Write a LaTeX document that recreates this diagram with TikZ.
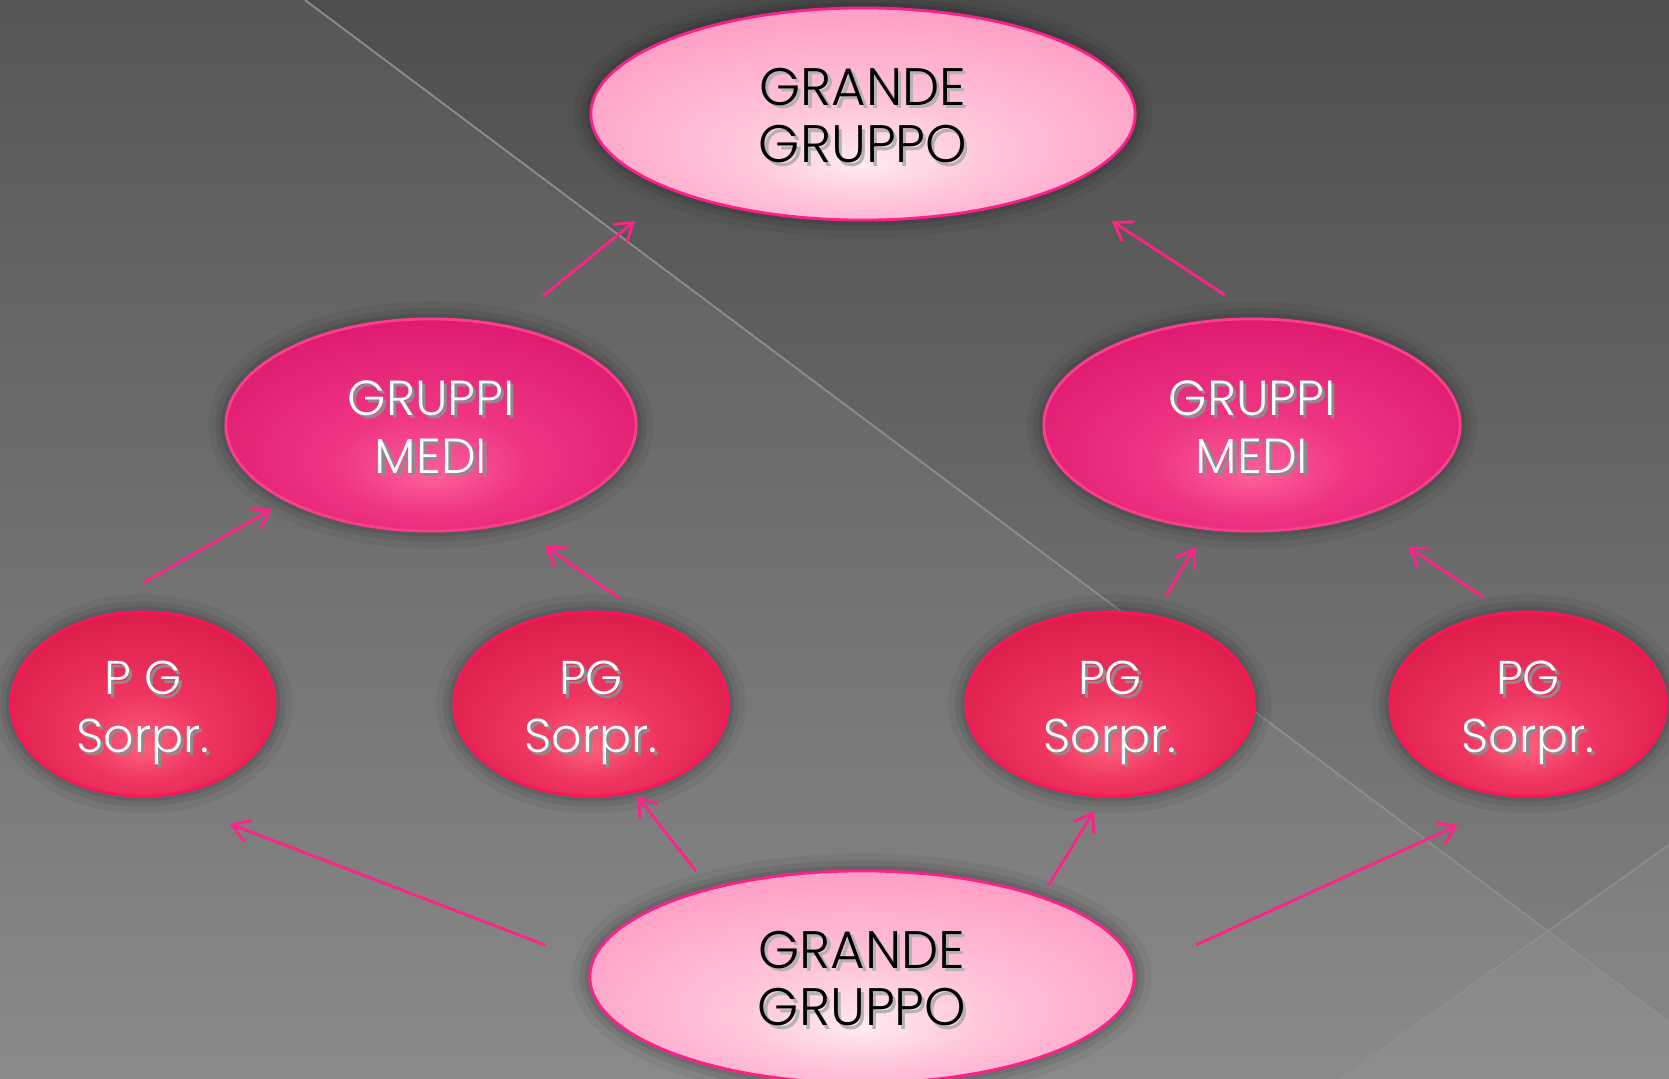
\documentclass[tikz,border=0pt]{standalone}
\usepackage{fontspec}
\IfFontExistsTF{Poppins Light}{\setmainfont{Poppins Light}}{\setmainfont{Poppins}}
\usetikzlibrary{arrows.meta,shapes.geometric}
\definecolor{bgtop}{HTML}{4E4E4E}
\definecolor{bgbot}{HTML}{848484}
\definecolor{bgln}{HTML}{8E8E8E}
\definecolor{arrcol}{HTML}{FF2288}
\definecolor{ggin}{HTML}{FFEAF2}
\definecolor{ggmid}{HTML}{FFC4DA}
\definecolor{ggout}{HTML}{FF8CBC}
\definecolor{ggln}{HTML}{FF1F8A}
\definecolor{gmin}{HTML}{FF5F9C}
\definecolor{gmmid}{HTML}{EE3582}
\definecolor{gmout}{HTML}{D80F68}
\definecolor{gmln}{HTML}{FF3D8D}
\definecolor{pgin}{HTML}{FF5F7D}
\definecolor{pgmid}{HTML}{EE3560}
\definecolor{pgout}{HTML}{D4123F}
\definecolor{pgln}{HTML}{FF1458}
\pgfdeclareradialshading{ggshade}{\pgfpoint{0bp}{-12bp}}{color(0bp)=(ggin); color(12bp)=(ggmid); color(38bp)=(ggout); color(50bp)=(ggout)}
\pgfdeclareradialshading{gmshade}{\pgfpoint{0bp}{-12bp}}{color(0bp)=(gmin); color(12bp)=(gmmid); color(38bp)=(gmout); color(50bp)=(gmout)}
\pgfdeclareradialshading{pgshade}{\pgfpoint{0bp}{-12bp}}{color(0bp)=(pgin); color(12bp)=(pgmid); color(38bp)=(pgout); color(50bp)=(pgout)}
\newcommand{\shd}[2]{\makebox[0pt][l]{\hspace{.9pt}\raisebox{-.9pt}{\color{#1}#2}}#2}
\newcommand{\alza}[1]{\rule{0pt}{#1}}
\begin{document}
\begin{tikzpicture}[x=0.01cm,y=-0.01cm,
	halo/.style={preaction={draw=black,line width=10pt,opacity=.05},preaction={draw=black,line width=6pt,opacity=.07},preaction={draw=black,line width=3pt,opacity=.09}},
	bubble/.style={ellipse,inner sep=0pt,align=center,halo},
	gg/.style={bubble,draw=ggln,line width=.8pt,shading=ggshade,minimum width=5.44cm,minimum height=2.12cm,font=\fontsize{15}{16.3}\selectfont,text=black},
	gm/.style={bubble,draw=gmln,line width=.8pt,shading=gmshade,minimum height=2.12cm,font=\fontsize{14}{16.5}\selectfont,text=white},
	pg/.style={bubble,draw=pgln,line width=.8pt,shading=pgshade,minimum height=1.84cm,font=\fontsize{13.5}{16.3}\selectfont,text=white},
	arr/.style={-{Straight Barb[length=4.8pt,width=6.5pt]},draw=arrcol,line width=.8pt}]
	\useasboundingbox (0,0) rectangle (1669,1079);
	\shade[top color=bgtop,bottom color=bgbot] (0,0) rectangle (1669,1079); %sfondo
	\fill[white,opacity=.05] (0,0)--(305,0)--(1669,1022)--(1669,1079)--(0,1079)--cycle;
	\fill[white,opacity=.04] (1340,1079)--(1669,845)--(1669,1079)--cycle;
	\draw[bgln,line width=.5pt] (305,0)--(1669,1022);
	\draw[bgln,line width=.5pt] (1340,1079)--(1669,845);
	
	\node[gg] (ggalto) at (863,114) {\alza{12.5pt}\shd{black!30}{GRANDE}\\\shd{black!30}{GRUPPO}};
	\node[gm,minimum width=4.10cm] (gmsx) at (431,425) {\alza{12pt}\shd{black!45}{GRUPPI}\\\shd{black!45}{MEDI}};
	\node[gm,minimum width=4.16cm] (gmdx) at (1252,425) {\alza{12pt}\shd{black!45}{GRUPPI}\\\shd{black!45}{MEDI}};
	\node[pg,minimum width=2.64cm] (pg1) at (143,704) {\alza{15.5pt}\shd{black!45}{P G}\\\shd{black!45}{Sorpr.}};
	\node[pg,minimum width=2.74cm] (pg2) at (591,704) {\alza{15.5pt}\shd{black!45}{PG}\\\shd{black!45}{Sorpr.}};
	\node[pg,minimum width=2.88cm] (pg3) at (1110,704) {\alza{15.5pt}\shd{black!45}{PG}\\\shd{black!45}{Sorpr.}};
	\node[pg,minimum width=2.76cm] (pg4) at (1528,704) {\alza{15.5pt}\shd{black!45}{PG}\\\shd{black!45}{Sorpr.}};
	\node[gg] (ggbasso) at (862,977) {\alza{12.5pt}\shd{black!30}{GRANDE}\\\shd{black!30}{GRUPPO}};
	
	%estremi delle frecce
	\coordinate (a1) at (543,296); \coordinate (b1) at (635,221);
	\coordinate (a2) at (1225,295); \coordinate (b2) at (1112,221);
	\coordinate (a3) at (143,583); \coordinate (b3) at (272,509);
	\coordinate (a4) at (619,598); \coordinate (b4) at (545,546);
	\coordinate (a5) at (1166,596); \coordinate (b5) at (1195,547);
	\coordinate (a6) at (1483,597); \coordinate (b6) at (1408,547);
	\coordinate (a7) at (545,945); \coordinate (b7) at (230,824);
	\coordinate (a8) at (696,871); \coordinate (b8) at (637,796);
	\coordinate (a9) at (1048,886); \coordinate (b9) at (1094,811);
	\coordinate (a10) at (1196,945); \coordinate (b10) at (1458,825);
	\foreach \i in {1,...,10}{\draw[arr] (a\i)--(b\i);}
\end{tikzpicture}
\end{document}
